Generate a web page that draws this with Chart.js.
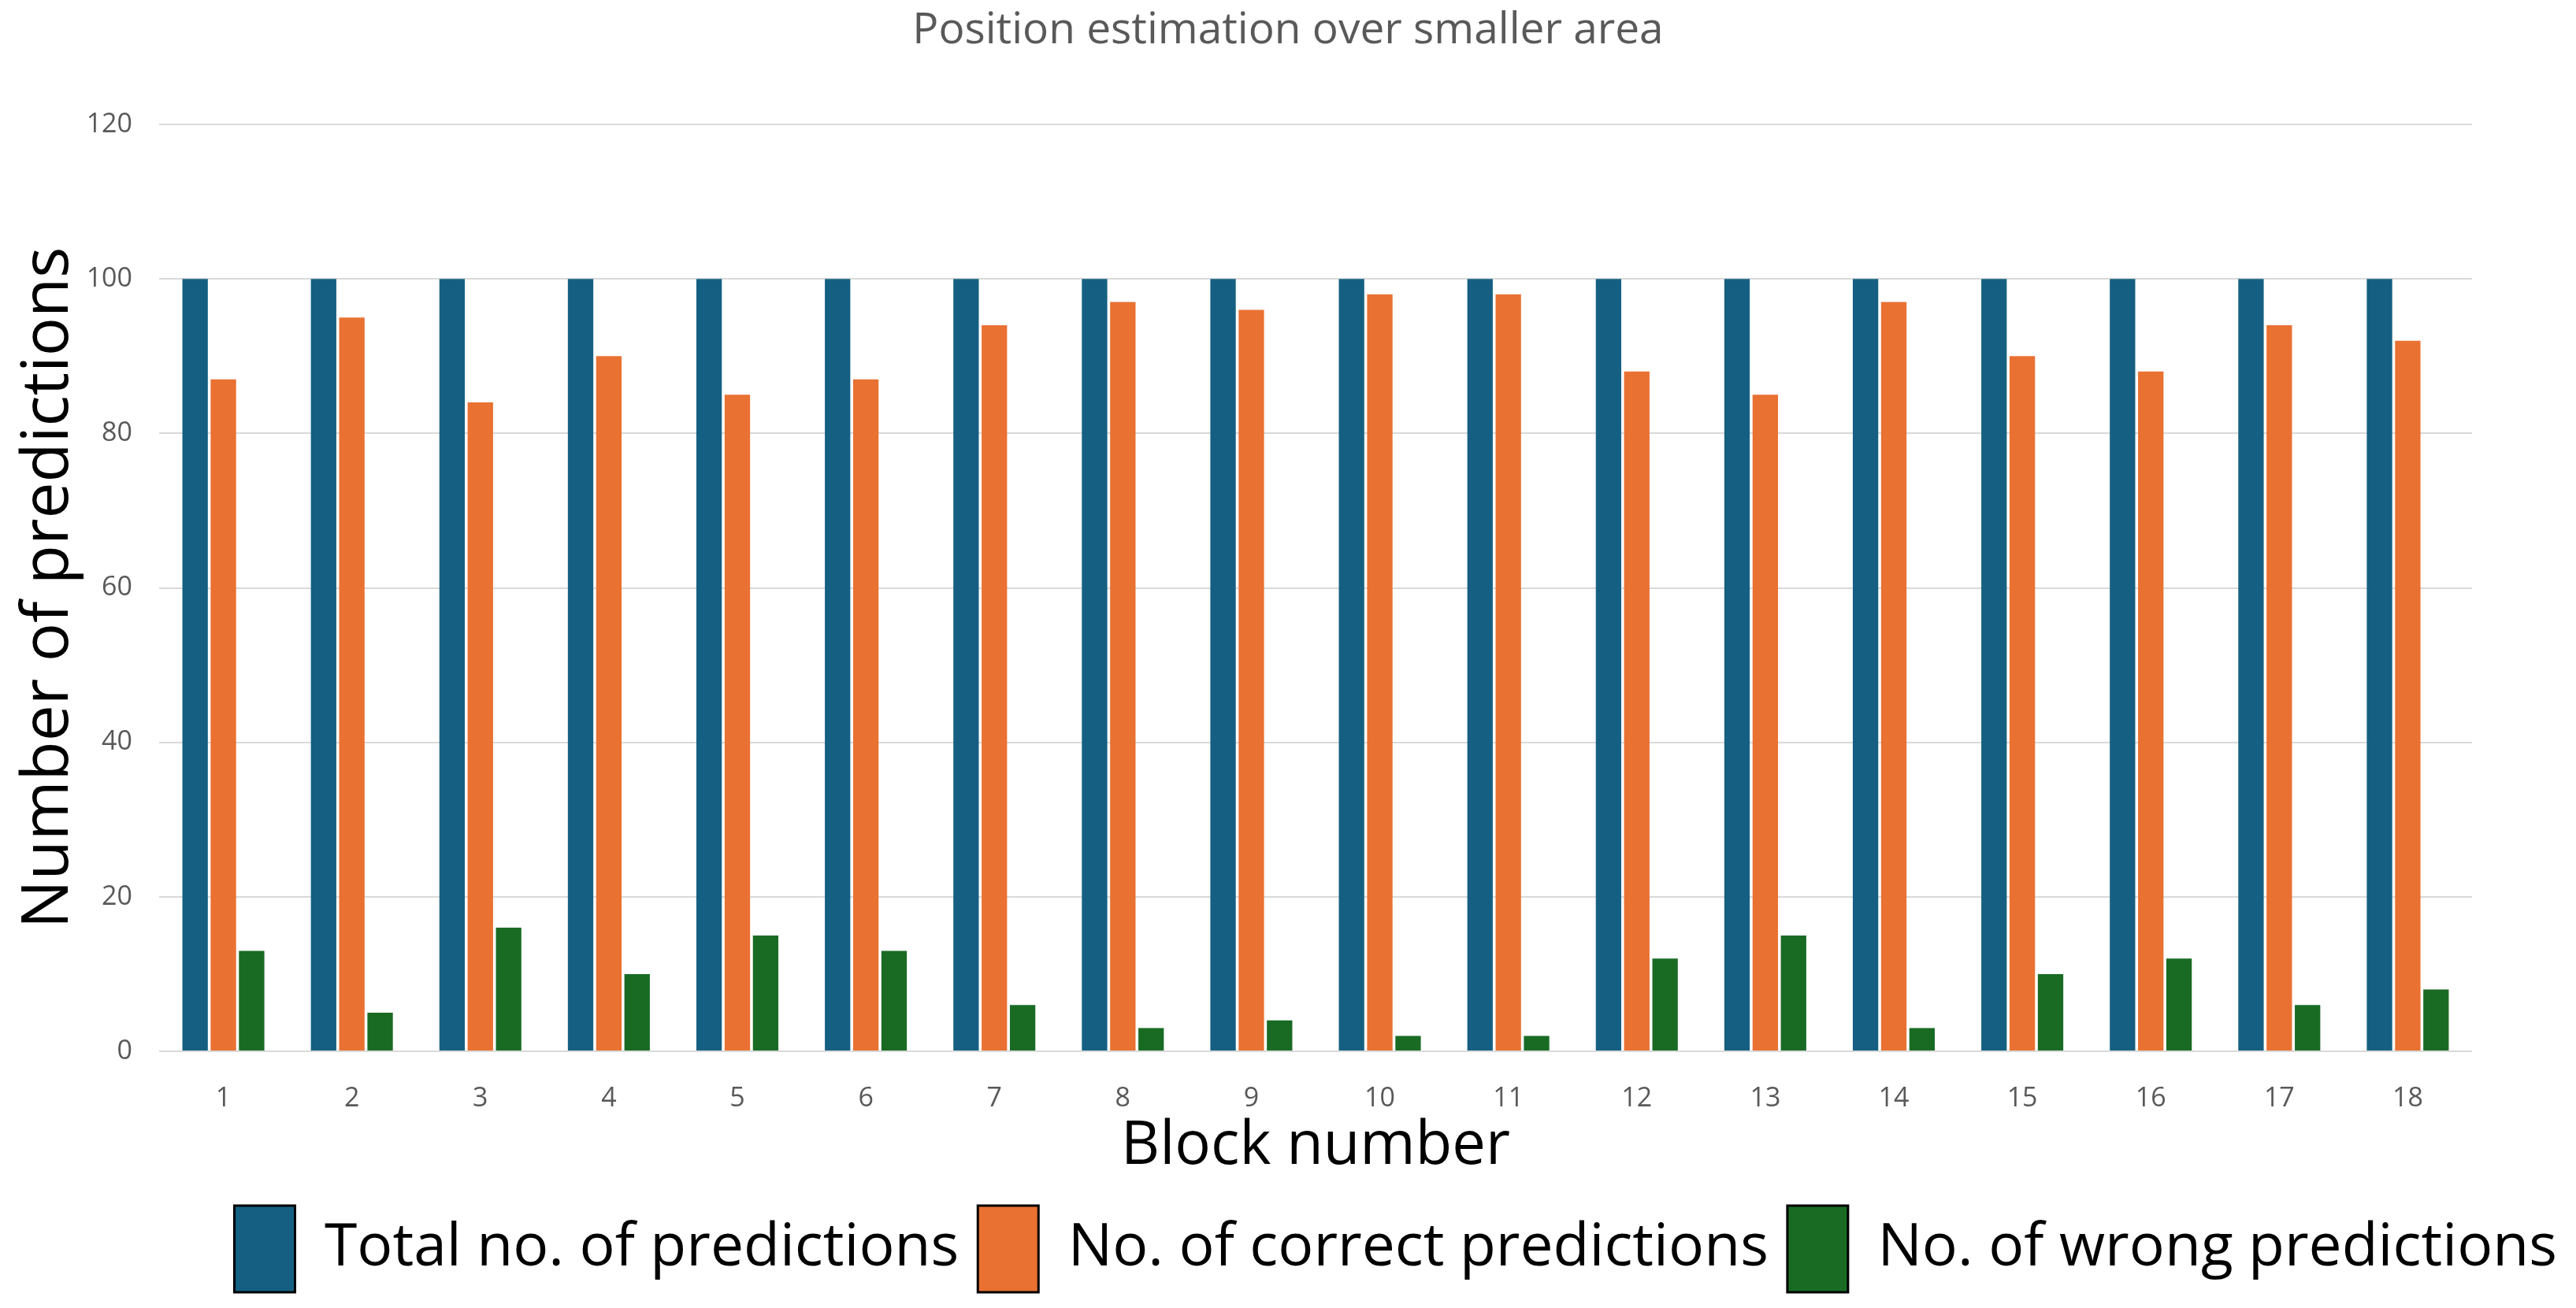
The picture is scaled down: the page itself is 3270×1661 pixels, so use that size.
<!DOCTYPE html>
<html><head><meta charset="utf-8">
<script src="https://cdn.jsdelivr.net/npm/chart.js@4.4.1/dist/chart.umd.min.js"></script>
<style>html,body{margin:0;padding:0;background:#fff;} #wrap{width:3270px;height:1661px;position:relative;}</style>
</head><body><div id="wrap"><canvas id="c"></canvas></div>
<script>
const categories = ['1','2','3','4','5','6','7','8','9','10','11','12','13','14','15','16','17','18'];
const totalPredictions = [100,100,100,100,100,100,100,100,100,100,100,100,100,100,100,100,100,100];
const correctPredictions = [87,95,84,90,85,87,94,97,96,98,98,88,85,97,90,88,94,92];
const wrongPredictions = [13,5,16,10,15,13,6,3,4,2,2,12,15,3,10,12,6,8];
const seriesNames = ['Total no. of predictions','No. of correct predictions','No. of wrong predictions'];
const seriesColors = ['#156082','#E97132','#196B24'];
const chartTitle = 'Position estimation over smaller area';
const xTitle = 'Block number';
const yTitle = 'Number of predictions';
const yMin = 0, yMax = 120, yStep = 20;

const FONT = "'Open Sans', 'Noto Sans', sans-serif";
const seriesData = [totalPredictions, correctPredictions, wrongPredictions];

new Chart(document.getElementById('c'), {
  type: 'bar',
  data: {
    labels: categories,
    datasets: seriesNames.map((n, i) => ({
      label: n,
      data: seriesData[i],
      backgroundColor: seriesColors[i],
      borderWidth: 0,
      categoryPercentage: 0.66,
      barPercentage: 0.9,
      yAxisID: 'y'
    }))
  },
  options: {
    responsive: true,
    maintainAspectRatio: false,
    devicePixelRatio: 1,
    animation: false,
    layout: { padding: { left: 0, right: 0, top: 0, bottom: 10 } },
    plugins: {
      tooltip: { enabled: false },
      title: {
        display: true,
        text: chartTitle,
        color: '#595959',
        font: { family: FONT, size: 55, weight: 'normal', lineHeight: 1.2 },
        padding: { top: 6, bottom: 86 }
      },
      legend: {
        position: 'bottom',
        align: 'end',
        labels: {
          color: '#000',
          font: { family: FONT, size: 75 },
          boxWidth: 77,
          boxHeight: 110,
          padding: 24,
          generateLabels: (chart) => chart.data.datasets.map((ds, i) => ({
            text: ds.label,
            fillStyle: ds.backgroundColor,
            strokeStyle: '#000',
            lineWidth: 3,
            hidden: false,
            datasetIndex: i,
            fontColor: '#000'
          }))
        }
      }
    },
    scales: {
      x: {
        grid: { display: false, drawTicks: false },
        border: { display: false },
        ticks: { color: '#595959', font: { family: FONT, size: 34 }, padding: 40 },
        title: { display: true, text: xTitle, color: '#000', font: { family: FONT, size: 76, lineHeight: 1.0 }, padding: { top: 0, bottom: 13 } },
        afterFit: (s) => { s.height = 172; }
      },
      y: {
        min: yMin, max: yMax,
        ticks: { stepSize: yStep, color: '#595959', font: { family: FONT, size: 34 }, padding: 34 },
        grid: { color: '#d9d9d9', lineWidth: 2, drawTicks: false },
        border: { display: false },
        title: { display: true, text: yTitle, color: '#000', font: { family: FONT, size: 82, lineHeight: 1.0 }, padding: { top: 22, bottom: 0 } },
        afterFit: (s) => { s.width = 202; }
      },
      yPad: {
        type: 'linear',
        position: 'right',
        display: true,
        grid: { display: false, drawTicks: false },
        border: { display: false },
        ticks: { display: false },
        afterFit: (s) => { s.width = 132; }
      }
    }
  }
});
</script>
</body></html>
